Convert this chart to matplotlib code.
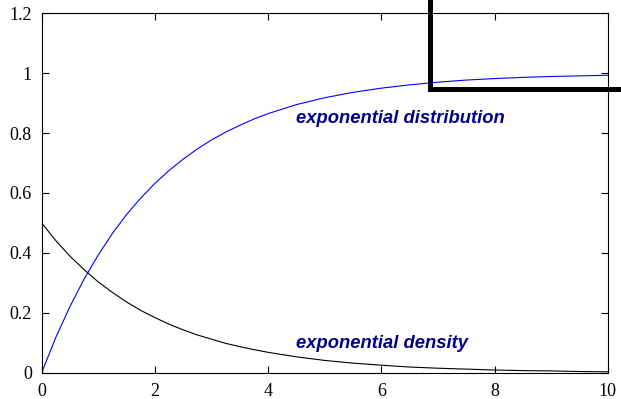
import matplotlib
matplotlib.use("Agg")
from matplotlib import pyplot as plt
from matplotlib.lines import Line2D

# values
x_vals = [0, 0.25, 0.5, 0.75, 1, 1.25, 1.5, 1.75, 2, 2.25, 2.5, 2.75, 3, 3.25, 3.5, 3.75,
          4, 4.5, 5, 5.5, 6, 6.5, 7, 7.5, 8, 8.5, 9, 9.5, 10]
density = [0.5, 0.441, 0.389, 0.344, 0.303, 0.268, 0.236, 0.208, 0.184, 0.162, 0.143, 0.126,
           0.112, 0.098, 0.087, 0.077, 0.068, 0.053, 0.041, 0.032, 0.025, 0.019, 0.015,
           0.012, 0.009, 0.007, 0.006, 0.004, 0.003]
distribution = [0, 0.118, 0.221, 0.313, 0.393, 0.465, 0.528, 0.583, 0.632, 0.675, 0.713,
                0.747, 0.777, 0.803, 0.826, 0.847, 0.865, 0.895, 0.918, 0.936, 0.950, 0.961,
                0.970, 0.977, 0.982, 0.986, 0.989, 0.991, 0.993]
x_ticks = [0, 2, 4, 6, 8, 10]
x_tick_labels = ["0", "2", "4", "6", "8", "10"]
y_ticks = [0, 0.2, 0.4, 0.6, 0.8, 1.0, 1.2]
y_tick_labels = ["0", "0.2", "0.4", "0.6", "0.8", "1", "1.2"]

label_color = "#00008b"

fig = plt.figure(figsize=(6.21, 3.99), dpi=100)
ax = fig.add_axes([0.0671, 0.0659, 0.9115, 0.9008])

ax.plot(x_vals, distribution, color="#0000ff", lw=0.8)
ax.plot(x_vals, density, color="black", lw=0.8)

ax.set_xlim(0, 10)
ax.set_ylim(0, 1.2)
ax.set_xticks(x_ticks)
ax.set_xticklabels(x_tick_labels)
ax.set_yticks(y_ticks)
ax.set_yticklabels(y_tick_labels)

for side in ["top", "bottom", "left", "right"]:
    ax.spines[side].set_linewidth(0.8)

ax.tick_params(direction="in", length=5, width=0.8, top=True, right=True,
               labelsize=13)
ax.tick_params(axis="x", pad=7.5)
ax.tick_params(axis="y", pad=7)
for lab in ax.get_xticklabels() + ax.get_yticklabels():
    lab.set_family("Liberation Serif")

ax.text(4.5, 0.835, "exponential distribution", color=label_color, fontsize=13.2,
        family="Liberation Sans", weight="bold", style="italic", va="baseline")
ax.text(4.5, 0.083, "exponential density", color=label_color, fontsize=13.2,
        family="Liberation Sans", weight="bold", style="italic", va="baseline")

# thick corner mark drawn over the top right of the figure
fig.add_artist(Line2D([0.6932, 0.6932, 1.0], [1.0, 0.7757, 0.7757],
                      transform=fig.transFigure, color="black", lw=3.6,
                      solid_joinstyle="miter", zorder=10))

fig.savefig("out.png", dpi=100)
